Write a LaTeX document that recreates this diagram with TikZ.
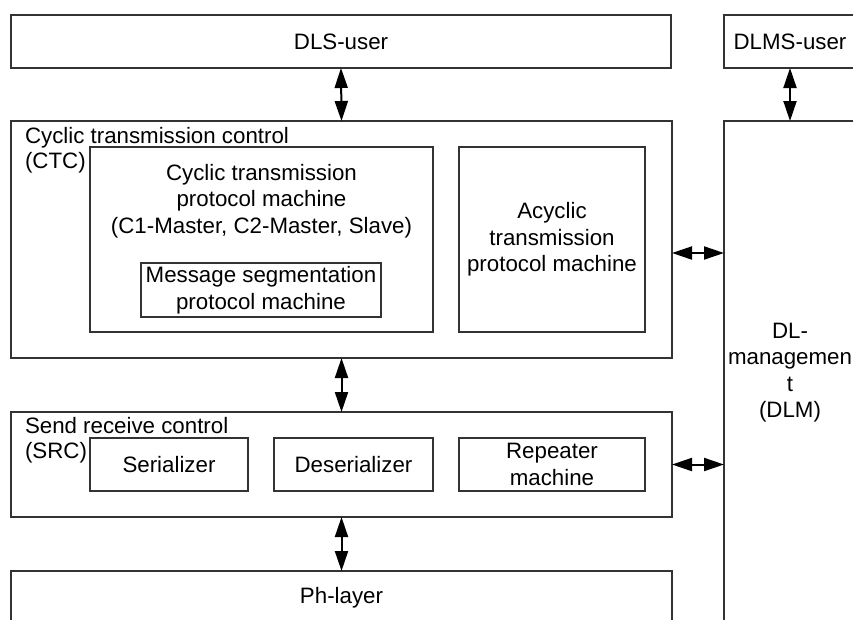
\documentclass[tikz,border=0pt]{standalone}
\usepackage{fontspec}
\setmainfont{Liberation Sans}
\usetikzlibrary{arrows.meta}
\begin{document}
\begin{tikzpicture}[x=1pt,y=-1pt,
  every node/.style={font=\fontsize{22.3}{26.5}\selectfont, inner sep=0pt, outer sep=0pt},
  box/.style={draw=black!80, line width=1.2pt, anchor=north west, align=center},
  caption/.style={anchor=base west},
  dbl/.style={line width=2pt, {Triangle[length=20pt,width=13pt]}-{Triangle[length=20pt,width=13pt]}}
]
\useasboundingbox (0,0) rectangle (853,619);

% user layer
\node[box, minimum width=660pt, minimum height=53pt] (dls) at (11,15) {DLS-user};
\node[box, minimum width=132pt, minimum height=53pt] (dlms) at (724,15) {DLMS-user};

% cyclic transmission control
\node[box, minimum width=661pt, minimum height=237pt] (ctc) at (11,121) {};
\node[caption] (ctcname) at (25,143) {Cyclic transmission control};
\node[caption] (ctcabbr) at (25,168) {(CTC)};
\node[box, minimum width=343pt, minimum height=185pt] (cyc) at (90,147) {};
\node[align=center] (cyctext) at (261.5,201) {Cyclic transmission\\protocol machine\\(C1-Master, C2-Master, Slave)};
\node[box, minimum width=240pt, minimum height=54pt] (msg) at (141,263) {Message segmentation\\protocol machine};
\node[box, minimum width=186pt, minimum height=185pt] (acyc) at (459,147) {Acyclic\\transmission\\protocol machine};

% data link management
\node[box, minimum width=132pt, minimum height=503pt] (dlm) at (724,121) {DL-\\managemen\\t\\(DLM)};

% send receive control
\node[box, minimum width=661pt, minimum height=105pt] (src) at (11,412) {};
\node[caption] (srcname) at (25,433) {Send receive control};
\node[caption] (srcabbr) at (25,458) {(SRC)};
\node[box, minimum width=158pt, minimum height=53pt] (ser) at (90,438) {Serializer};
\node[box, minimum width=159pt, minimum height=53pt] (des) at (274,438) {Deserializer};
\node[box, minimum width=186pt, minimum height=53pt] (rep) at (459,438) {Repeater\\machine};

% physical layer
\node[box, minimum width=661pt, minimum height=53pt] (ph) at (11,571) {Ph-layer};

% interfaces
\draw[dbl] (dls.south) -- (ctc.north);
\draw[dbl] (dlms.south) -- (dlm.north);
\draw[dbl] (ctc.south) -- (src.north);
\draw[dbl] (src.south) -- (ph.north);
\coordinate (mgmtlink) at (700,253);
\draw[dbl] (ctc.east |- mgmtlink) -- (dlm.west |- mgmtlink);
\draw[dbl] (src.east) -- (src.east -| dlm.west);
\end{tikzpicture}
\end{document}
